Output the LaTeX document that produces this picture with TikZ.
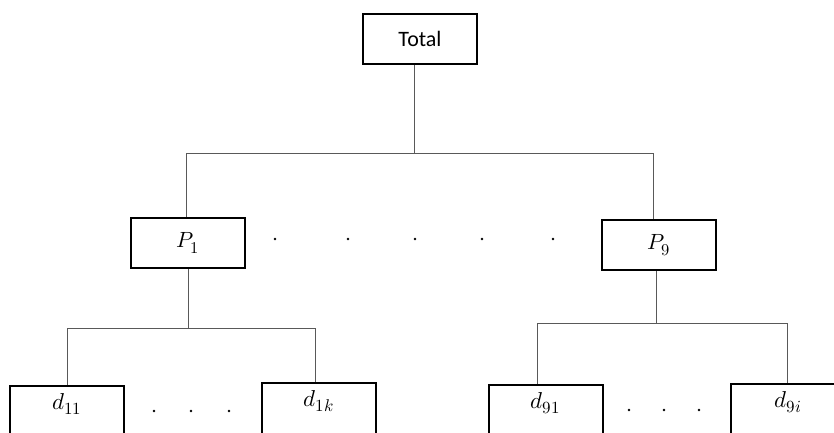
\documentclass[tikz,border=0pt]{standalone}
\usepackage{fontspec}
\usepackage{unicode-math}
\setmainfont{Carlito}
\setmathfont{Latin Modern Math}
% larger subscripts at the two label sizes
\DeclareMathSizes{22}{22}{16.5}{12}
\DeclareMathSizes{23}{23}{17}{12.5}
\begin{document}
\begin{tikzpicture}[x=1pt,y=-1pt,
  box/.style={draw=black, line width=2pt, minimum width=114pt, minimum height=50pt,
    inner sep=0pt, font=\fontsize{22}{26}\selectfont},
  leaf/.style={draw=black, line width=2pt, minimum width=114pt, anchor=north,
    inner xsep=0pt, inner ysep=4pt, text height=19pt, text depth=40pt,
    font=\fontsize{23}{27}\selectfont},
  wire/.style={draw=black!65, line width=1pt},
  dot/.style={fill=black, circle, inner sep=0pt, minimum size=2.6pt}]
\useasboundingbox (0,0) rectangle (834,432);
\clip (0,0) rectangle (834,432);

% root and the two groups
\node[box] (total) at (420,39) {Total};
\node[box] (p1) at (187.5,243) {$P_1$};
\node[box] (p9) at (659,245) {$P_9$};

% leaves (cut by the lower edge)
\node[leaf] (d11) at (67,385) {$d_{11}$};
\node[leaf] (d1k) at (319,382) {$d_{1k}$};
\node[leaf] (d91) at (545.5,384) {$d_{91}$};
\node[leaf] (d9i) at (788,383) {$d_{9i}$};

% bus junctions
\coordinate (j0) at (414,153);
\coordinate (b0l) at (186,153);
\coordinate (b0r) at (653,153);
\coordinate (j1) at (188,328);
\coordinate (b1l) at (67,328);
\coordinate (b1r) at (315,328);
\coordinate (j9) at (656,323);
\coordinate (b9l) at (537,323);
\coordinate (b9r) at (787,323);

% top level
\draw[wire] (j0 |- total.south) -- (j0);
\draw[wire] (b0l |- p1.north) -- (b0l) -- (b0r) -- (b0r |- p9.north);

% left group
\draw[wire] (j1 |- p1.south) -- (j1);
\draw[wire] (b1l |- d11.north) -- (b1l) -- (b1r) -- (b1r |- d1k.north);

% right group
\draw[wire] (j9 |- p9.south) -- (j9);
\draw[wire] (b9l |- d91.north) -- (b9l) -- (b9r) -- (b9r |- d9i.north);

% ellipsis dots
\foreach \x [count=\i] in {275,348,415,482,553}
  \node[dot] (m\i) at (\x,239) {};
\foreach \x [count=\i] in {154,191,229}
  \node[dot] (l\i) at (\x,411) {};
\foreach \x [count=\i] in {629,664,699}
  \node[dot] (r\i) at (\x,410) {};
\end{tikzpicture}
\end{document}
